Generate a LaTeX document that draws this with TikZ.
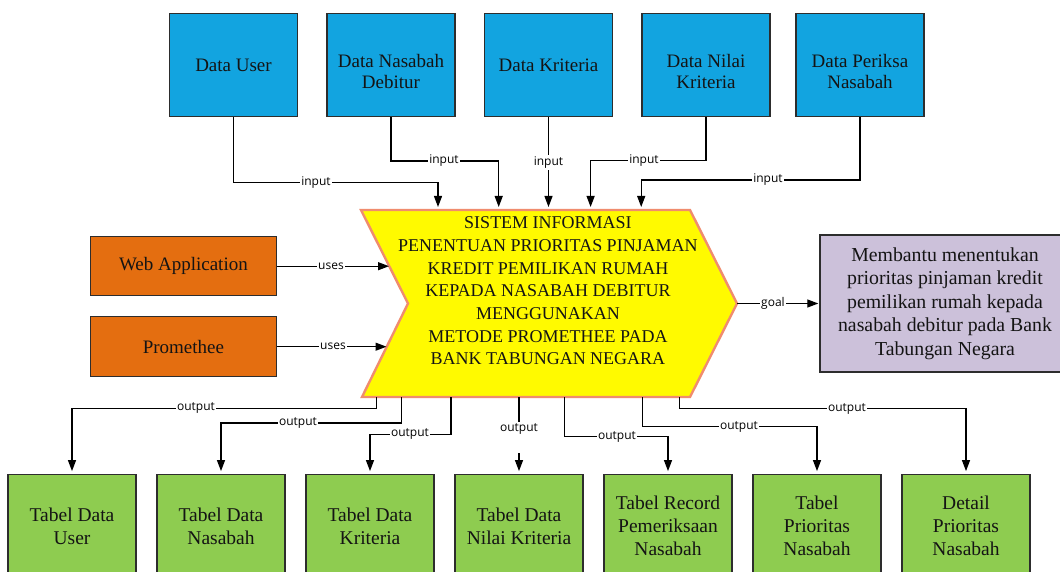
\documentclass[tikz,border=0pt]{standalone}
\usepackage{fontspec}
\setmainfont{Liberation Serif}
\newfontfamily\lblfont{Open Sans}
\usetikzlibrary{arrows.meta}
\definecolor{bluebox}{RGB}{18,164,224}
\definecolor{orangebox}{RGB}{228,110,16}
\definecolor{yellowbox}{RGB}{255,250,0}
\definecolor{yellowedge}{RGB}{240,140,110}
\definecolor{purplebox}{RGB}{204,193,218}
\definecolor{greenbox}{RGB}{142,204,80}
\definecolor{boxedge}{RGB}{45,45,45}
\definecolor{txt}{RGB}{20,20,20}
\newcommand{\downby}{\rule{0pt}{26pt}}
\begin{document}
\begin{tikzpicture}[x=1pt,y=-1pt,
  box/.style={draw=boxedge, line width=1.4pt, inner sep=0pt, align=center, text=txt},
  databox/.style={box, fill=bluebox, minimum width=128pt, minimum height=103.4pt, font=\fontsize{19}{20.5}\selectfont},
  usebox/.style={box, fill=orangebox, minimum width=186.4pt, font=\fontsize{19}{22.5}\selectfont},
  goalbox/.style={box, fill=purplebox, minimum width=250pt, minimum height=137pt, font=\fontsize{19.8}{23.5}\selectfont},
  tabbox/.style={box, fill=greenbox, minimum width=128pt, minimum height=104pt, font=\fontsize{19.5}{23}\selectfont},
  ytext/.style={align=center, text=txt, font=\fontsize{18}{22.7}\selectfont},
  yedge/.style={draw=yellowedge, fill=yellowbox, line width=2.4pt, line join=miter},
  conn/.style={draw=black, line width=1.2pt, -{Triangle[length=11pt,width=8pt]}},
  lbl/.style={font=\lblfont\fontsize{12}{14}\selectfont, fill=white, inner sep=1.5pt, text=black}
]
\useasboundingbox (0,0) rectangle (1060,572);
\clip (0,0) rectangle (1060,572);
\fill[white] (0,0) rectangle (1060,572);

% top data boxes
\node[databox] (bU) at (233.5,65) {Data User};
\node[databox] (bN) at (391,65) {\downby Data Nasabah\\Debitur};
\node[databox] (bK) at (548.5,65) {Data Kriteria};
\node[databox] (bV) at (706,65) {\downby Data Nilai\\Kriteria};
\node[databox] (bP) at (860,65) {\downby Data Periksa\\Nasabah};

% uses boxes
\node[usebox, minimum height=59pt] (wa) at (183.4,266.2) {Web Application};
\node[usebox, minimum height=60pt] (pr) at (183.4,346.7) {Promethee};

% goal box
\node[goalbox] (goal) at (945,303.5) {Membantu menentukan\\prioritas pinjaman kredit\\pemilikan rumah kepada\\nasabah debitur pada Bank\\Tabungan Negara};

% output tables
\node[tabbox] (gU) at (72,526.3) {Tabel Data\\User};
\node[tabbox] (gN) at (221,526.3) {Tabel Data\\Nasabah};
\node[tabbox] (gK) at (370,526.3) {Tabel Data\\Kriteria};
\node[tabbox] (gV) at (519,526.3) {Tabel Data\\Nilai Kriteria};
\node[tabbox] (gR) at (668,526.3) {Tabel Record\\Pemeriksaan\\Nasabah};
\node[tabbox] (gT) at (817,526.3) {Tabel\\Prioritas\\Nasabah};
\node[tabbox] (gD) at (966,526.3) {Detail\\Prioritas\\Nasabah};

% central system shape
\coordinate (yTL) at (361,210);
\coordinate (yTR) at (690,210);
\coordinate (yT) at (737,303.5);
\coordinate (yBR) at (690,397);
\coordinate (yBL) at (362,397);
\coordinate (yN) at (408,303.5);
\draw[yedge] (yTL) -- (yTR) -- (yT) -- (yBR) -- (yBL) -- (yN) -- cycle;
\node[ytext] (sys) at (548,291) {SISTEM INFORMASI\\PENENTUAN PRIORITAS PINJAMAN\\KREDIT PEMILIKAN RUMAH\\KEPADA NASABAH DEBITUR\\MENGGUNAKAN\\METODE PROMETHEE PADA\\BANK TABUNGAN NEGARA};

% input connectors
\coordinate (in1) at (438,207);
\coordinate (in2) at (498.7,207);
\coordinate (in3) at (548.5,207);
\coordinate (in4) at (590.6,207);
\coordinate (in5) at (641.2,207);
\coordinate (ci1) at (438,182.7);
\coordinate (ci2) at (498.7,161);
\coordinate (ci4) at (590.6,160.7);
\coordinate (ci5) at (641.2,180);
\draw[conn] (bU.south) |- (ci1) -- (in1);
\draw[conn] (bN.south) |- (ci2) -- (in2);
\draw[conn] (bK.south) -- (in3);
\draw[conn] (bV.south) |- (ci4) -- (in4);
\draw[conn] (bP.south) |- (ci5) -- (in5);
\node[lbl] (li1) at (316,182.7) {input};
\node[lbl] (li2) at (444,161) {input};
\node[lbl] (li3) at (548.5,162.7) {input};
\node[lbl] (li4) at (644,160.7) {input};
\node[lbl] (li5) at (768,180) {input};

% uses connectors
\coordinate (uW) at (389,266.2);
\coordinate (uP) at (386.5,346.7);
\draw[conn] (wa.east) -- (uW);
\draw[conn] (pr.east) -- (uP);
\node[lbl] (lu1) at (331,266.2) {uses};
\node[lbl] (lu2) at (333,346.7) {uses};

% goal connector
\draw[conn, shorten >=1pt] (yT) -- (goal.west);
\node[lbl] (lg) at (773,303.5) {goal};

% output connectors
\coordinate (o1) at (376.7,397);
\coordinate (o2) at (401.7,397);
\coordinate (o3) at (451,397);
\coordinate (o4) at (519,397);
\coordinate (o5) at (564.3,397);
\coordinate (o6) at (642.3,397);
\coordinate (o7) at (679.3,397);
\coordinate (c1) at (376.7,408.3);
\coordinate (c2) at (401.7,423);
\coordinate (c3) at (451,434.3);
\coordinate (c5) at (564.3,436.7);
\coordinate (c6) at (642.3,426.7);
\coordinate (c7) at (679.3,408.5);
\draw[conn, shorten >=2.5pt] (o1) -- (c1) -| (gU.north);
\draw[conn, shorten >=2.5pt] (o2) -- (c2) -| (gN.north);
\draw[conn, shorten >=2.5pt] (o3) -- (c3) -| (gK.north);
\draw[conn, shorten >=2.5pt] (o4) -- (gV.north);
\draw[conn, shorten >=2.5pt] (o5) -- (c5) -| (gR.north);
\draw[conn, shorten >=2.5pt] (o6) -- (c6) -| (gT.north);
\draw[conn, shorten >=2.5pt] (o7) -- (c7) -| (gD.north);
\node[lbl] (lo1) at (196,408.3) {output};
\node[lbl] (lo2) at (298,423) {output};
\node[lbl] (lo3) at (410,434.3) {output};
\node[lbl, anchor=base, text depth=20pt] (lo4) at (519,431) {output};
\node[lbl] (lo5) at (617,436.7) {output};
\node[lbl] (lo6) at (739,426.7) {output};
\node[lbl] (lo7) at (847,408.5) {output};
\end{tikzpicture}
\end{document}
